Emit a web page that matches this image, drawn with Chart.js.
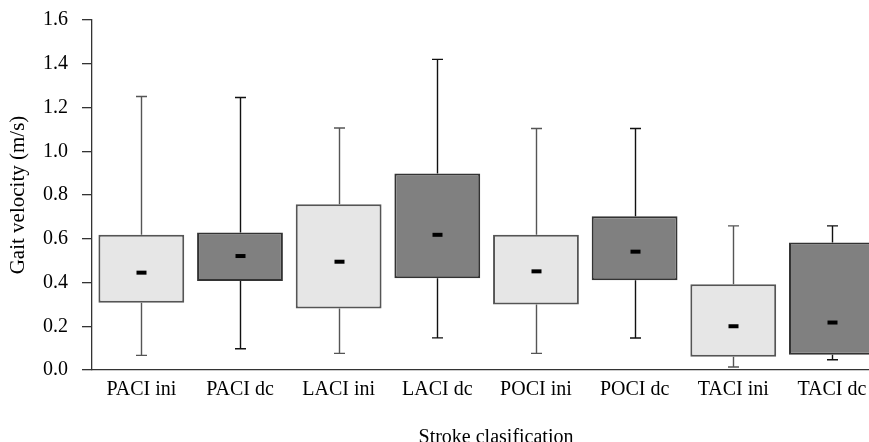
<!DOCTYPE html>
<html>
<head>
<meta charset="utf-8">
<script src="https://cdn.jsdelivr.net/npm/chart.js@4/dist/chart.umd.min.js"></script>
<style>
html, body { margin: 0; padding: 0; overflow: hidden; background: #fff; }
#wrap { width: 900px; height: 456px; position: relative; margin-top: -6px; }
</style>
</head>
<body>
<div id="wrap"><canvas id="c"></canvas></div>
<script>
const categories = ['PACI ini', 'PACI dc', 'LACI ini', 'LACI dc', 'POCI ini', 'POCI dc', 'TACI ini', 'TACI dc'];
const q1 = [0.308, 0.407, 0.281, 0.419, 0.299, 0.410, 0.061, 0.070];
const q3 = [0.618, 0.629, 0.758, 0.898, 0.618, 0.703, 0.392, 0.583];
const medians = [0.445, 0.521, 0.495, 0.618, 0.451, 0.541, 0.200, 0.217];
const whiskerLow = [0.067, 0.097, 0.076, 0.147, 0.076, 0.146, 0.014, 0.047];
const whiskerHigh = [1.250, 1.246, 1.106, 1.420, 1.104, 1.104, 0.659, 0.659];
const yTicks = [0.0, 0.2, 0.4, 0.6, 0.8, 1.0, 1.2, 1.4, 1.6];

const isDark = categories.map(c => / dc$/.test(c));
const FONT = 'Liberation Serif';

const boxPlugin = {
  id: 'boxExtras',
  afterDatasetsDraw(chart) {
    const ctx = chart.ctx, xs = chart.scales.x, ys = chart.scales.y;
    ctx.save();
    categories.forEach((c, i) => {
      const cx = Math.round(xs.getPixelForValue(i)) + 0.5;
      const yHi = ys.getPixelForValue(whiskerHigh[i]);
      const yLo = ys.getPixelForValue(whiskerLow[i]);
      const yQ1 = ys.getPixelForValue(q1[i]);
      const yQ3 = ys.getPixelForValue(q3[i]);
      ctx.strokeStyle = isDark[i] ? '#111' : '#555';
      ctx.lineWidth = 1.4;
      ctx.beginPath();
      ctx.moveTo(cx, yQ3); ctx.lineTo(cx, yHi);
      ctx.moveTo(cx, yQ1); ctx.lineTo(cx, yLo);
      ctx.moveTo(cx - 5.5, yHi); ctx.lineTo(cx + 5.5, yHi);
      ctx.moveTo(cx - 5.5, yLo); ctx.lineTo(cx + 5.5, yLo);
      ctx.stroke();
      const ym = ys.getPixelForValue(medians[i]);
      ctx.fillStyle = '#000';
      ctx.fillRect(cx - 5, ym - 2, 10, 4);
    });
    ctx.restore();
  }
};

new Chart(document.getElementById('c'), {
  type: 'bar',
  data: {
    datasets: [{
      data: categories.map((c, i) => ({ x: i, y: [q1[i], q3[i]] })),
      backgroundColor: isDark.map(d => d ? '#808080' : '#e6e6e6'),
      borderColor: isDark.map(d => d ? '#333' : '#555'),
      borderWidth: 2,
      borderSkipped: false,
      barPercentage: 1,
      categoryPercentage: 0.87
    }]
  },
  options: {
    responsive: true,
    maintainAspectRatio: false,
    animation: false,
    layout: { padding: { top: 13, right: 0, left: 0, bottom: 0 } },
    plugins: { legend: { display: false }, tooltip: { enabled: false } },
    scales: {
      x: {
        type: 'linear',
        offset: false,
        min: -0.5, max: 7.69,
        afterBuildTicks: s => { s.ticks = categories.map((c, i) => ({ value: i })); },
        grid: { display: false, drawTicks: false },
        border: { display: true, color: '#333', width: 1.3 },
        ticks: { color: '#000', font: { family: FONT, size: 20 }, padding: 8, maxRotation: 0, autoSkip: false, callback: v => categories[v] },
        title: { display: true, text: 'Stroke clasification', color: '#000', font: { family: FONT, size: 20 }, padding: { top: 0, bottom: 0 } },
        afterFit: s => { s.height = 80; }
      },
      y: {
        min: 0, max: 1.6,
        afterBuildTicks: s => { s.ticks = yTicks.map(v => ({ value: v })); },
        grid: { drawOnChartArea: false, drawTicks: true, tickLength: 10, color: '#333', lineWidth: 1.3 },
        border: { display: true, color: '#333', width: 1.3 },
        ticks: { color: '#000', font: { family: FONT, size: 20 }, padding: 14, callback: v => Number(v).toFixed(1) },
        title: { display: true, text: 'Gait velocity (m/s)', color: '#000', font: { family: FONT, size: 21 }, padding: { top: 6, bottom: 0 } },
        afterFit: s => { s.width = 92; }
      }
    }
  },
  plugins: [boxPlugin]
});
</script>
</body>
</html>
